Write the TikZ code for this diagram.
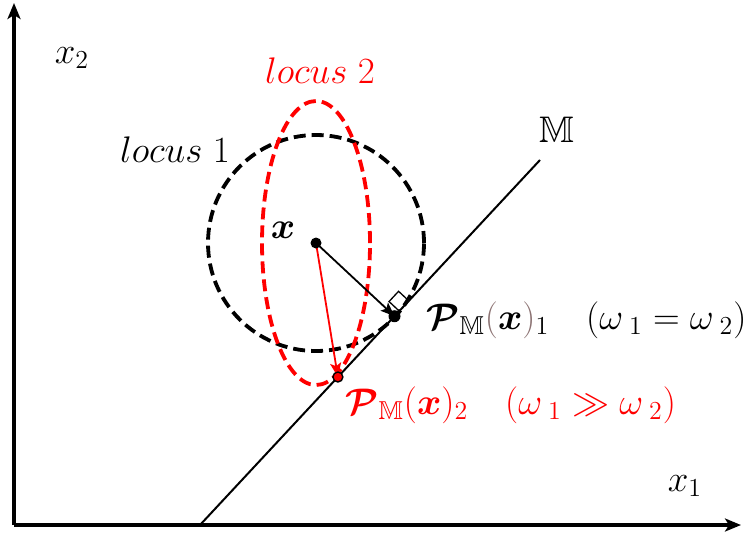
\documentclass[tikz,border=0pt]{standalone}
\usepackage{fix-cm}
\usepackage{amsmath,amssymb,bm}
\usetikzlibrary{arrows.meta,calc}
\definecolor{pbrown}{rgb}{0.55,0.45,0.45}
\tikzset{
  axis/.style={line width=1.6pt,-{Stealth[length=8pt,width=6.5pt,inset=2pt]}},
  manif/.style={line width=1pt},
  locusA/.style={line width=1.9pt,dash pattern=on 6pt off 3pt},
  locusB/.style={locusA,red},
  proj/.style={line width=0.9pt,-{Stealth[length=7pt,width=5.5pt,inset=1.5pt]}},
  lbl/.style={inner sep=0pt,font=\fontsize{18.5}{22}\selectfont},
}
\begin{document}
\begin{tikzpicture}[x=0.5pt,y=-0.5pt]
\useasboundingbox (0,0) rectangle (747,536);
% coordinates
\coordinate (O) at (14,525);
\coordinate (Ytop) at (14,3);
\coordinate (Xend) at (741,525);
\coordinate (Ma) at (200,525);
\coordinate (Mb) at (540,160);
\coordinate (C) at (316,243);
\coordinate (F1) at (394.5,316.2);
\coordinate (F2) at (337.9,377);
% axes
\draw[axis] (O) -- (Ytop);
\draw[axis] (O) -- (Xend);
% manifold line
\draw[manif] (Ma) -- (Mb);
% loci
\draw[locusA] (C) circle[radius=54pt];
\draw[locusB] (C) ellipse[x radius=27pt,y radius=71pt];
% right angle marker
\draw[line width=0.65pt] ($(F1)+(0.6816*7,-0.7317*7)$) -- ++(-0.7317*14,-0.6816*14) -- ++(0.6816*14,-0.7317*14) -- ++(0.7317*14,0.6816*14);
% projections
\draw[proj] (C) -- (F1);
\draw[proj,red] (C) -- (F2);
\fill (C) circle[radius=2.75pt];
\fill (F1) circle[radius=3pt];
\filldraw[fill=red,draw=black,line width=0.7pt] (F2) circle[radius=2.5pt];
% labels
\node[lbl] (lx2) at (72,58) {$x_2$};
\node[lbl] (lx1) at (685,486) {$x_1$};
\node[lbl] (lM) at (557,130) {$\mathbb{M}$};
\node[lbl] (lx) at (283,230) {$\bm{x}$};
\node[lbl] (lc1) at (175,150) {$locus\;1$};
\node[lbl,red] (lc2) at (320,71) {$locus\;2$};
\node[lbl,anchor=west] (lp1) at (426,320) {$\bm{\mathcal{P}}_{\mathbb{M}}\textcolor{pbrown}{(}\bm{x}\textcolor{pbrown}{)}_1\quad(\omega_{\;1}=\omega_{\;2})$};
\node[lbl,anchor=west,red] (lp2) at (345,405) {$\bm{\mathcal{P}}_{\mathbb{M}}(\bm{x})_2\quad(\omega_{\;1}\gg\omega_{\;2})$};
\end{tikzpicture}
\end{document}
